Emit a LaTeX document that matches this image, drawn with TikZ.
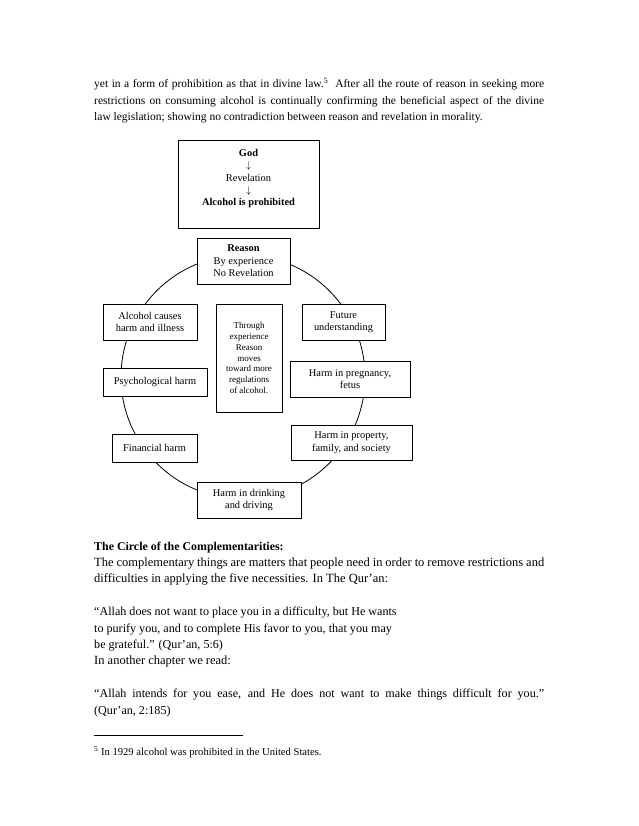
\documentclass[tikz,border=0pt]{standalone}
\usepackage{fontspec}
\setmainfont{Liberation Serif}
\usetikzlibrary{positioning}
\newcommand\bodytxt{\fontsize{12.5}{16.5}\selectfont}
\newcommand\toptxt{\fontsize{11.5}{16.5}\selectfont}
\newcommand\quotetxt{\fontsize{12.1}{16.5}\selectfont}
\newcommand\boxtxt{\fontsize{10.4}{12.5}\selectfont}
\newcommand\godtxt{\fontsize{10.4}{12.3}\selectfont}
\newcommand\smalltxt{\fontsize{9}{10.8}\selectfont}
\newcommand\jline[1]{\makebox[450pt][s]{#1}}

\begin{document}
\begin{tikzpicture}[
  x=1pt, y=-1pt,
  every node/.style={font=\boxtxt},
  stage/.style={draw, fill=white, line width=0.8pt, align=center, inner sep=0pt},
  txt/.style={anchor=base west, inner sep=0pt, font=\bodytxt}
]
  \path[use as bounding box, fill=white] (0,0) rectangle (638,826);

  % paragraph above the figure
  \node[txt, font=\toptxt] (par1) at (94,88) {\jline{yet in a form of prohibition as that in divine law.\textsuperscript{5}\ \ After all the route of reason in seeking more}};
  \node[txt, font=\toptxt] (par2) at (94,104.5) {\jline{restrictions on consuming alcohol is continually confirming the beneficial aspect of the divine}};
  \node[txt, font=\toptxt] (par3) at (94,121) {law legislation; showing no contradiction between reason and revelation in morality.};

  % revelation box
  \node[stage, font=\godtxt, minimum width=141, minimum height=88] (god) at (248.5,184)
    {\textbf{God}\\$\downarrow$\\Revelation\\$\downarrow$\\\textbf{Alcohol is prohibited}\rule[-13pt]{0pt}{13pt}};

  % circle of reason
  \coordinate (hub) at (243,377);
  \draw[line width=0.8pt] (hub) circle[radius=122];

  \node[stage, minimum width=93, minimum height=46] (reason) at (243.5,261)
    {\textbf{Reason}\\By experience\\No Revelation};
  \node[stage, minimum width=94, minimum height=36] (illness) at (150,322)
    {Alcohol causes\\harm and illness};
  \node[stage, minimum width=83, minimum height=36] (future) at (343.5,322)
    {Future\\understanding};
  \node[stage, minimum width=104, minimum height=28] (psych) at (155,382)
    {Psychological harm};
  \node[stage, minimum width=120, minimum height=36] (fetus) at (350,379)
    {Harm in pregnancy,\\fetus};
  \node[stage, minimum width=85, minimum height=28] (money) at (154.5,448)
    {Financial harm};
  \node[stage, minimum width=121, minimum height=35] (society) at (351.5,442.5)
    {Harm in property,\\family, and society};
  \node[stage, minimum width=104, minimum height=36] (driving) at (249,500)
    {Harm in drinking\\and driving};

  % middle box
  \node[stage, font=\smalltxt, minimum width=66, minimum height=108] (through) at (249,358)
    {Through\\experience\\Reason\\moves\\toward more\\regulations\\of alcohol.};

  % text below the figure
  \node[txt, font=\fontsize{11.9}{16.5}\selectfont\bfseries] (head) at (94,550) {The Circle of the Complementarities:};
  \node[txt] (par4) at (94,566) {\jline{The complementary things are matters that people need in order to remove restrictions and}};
  \node[txt] (par5) at (94,582) {difficulties in applying the five necessities. In The Qur’an:};
  \node[txt, font=\quotetxt] (quoteA) at (94,615) {“Allah does not want to place you in a difficulty, but He wants};
  \node[txt, font=\quotetxt] (quoteB) at (94,632) {to purify you, and to complete His favor to you, that you may};
  \node[txt, font=\quotetxt] (quoteC) at (94,648) {be grateful.” (Qur’an, 5:6)};
  \node[txt] (par6) at (94,664) {In another chapter we read:};
  \node[txt, font=\quotetxt] (quoteD) at (94,697) {\jline{“Allah intends for you ease, and He does not want to make things difficult for you.”}};
  \node[txt, font=\quotetxt] (quoteE) at (94,714) {(Qur’an, 2:185)};

  % footnote
  \coordinate (fnL) at (94,735);
  \coordinate (fnR) at (243,735);
  \draw[line width=0.6pt] (fnL) -- (fnR);
  \node[txt, font=\fontsize{10.6}{12.5}\selectfont] (fnote) at (94,755) {\textsuperscript{5} In 1929 alcohol was prohibited in the United States.};
\end{tikzpicture}
\end{document}
